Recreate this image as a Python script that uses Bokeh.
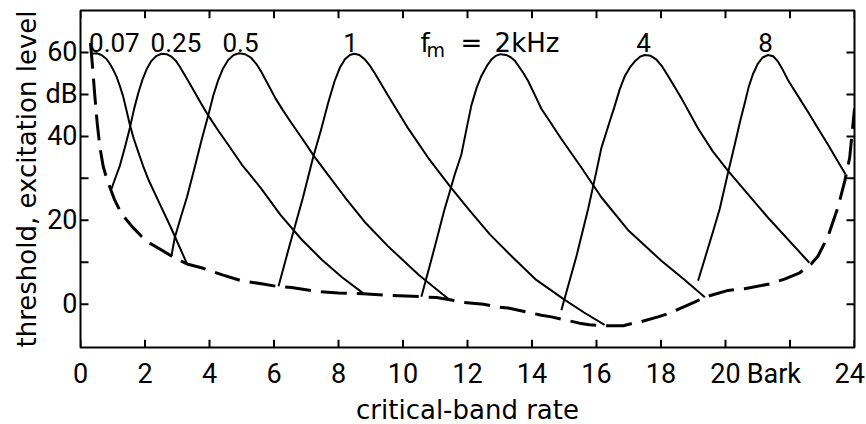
from bokeh.plotting import figure
from bokeh.models import Range1d, FixedTicker, Label, Title
from bokeh.embed import file_html
from bokeh.resources import INLINE

# ---------------- data (critical-band rate in Bark, level in dB) ----------------
threshold_z = [0.31, 0.38, 0.44, 0.52, 0.60, 0.70, 0.81, 1.05, 1.27, 1.60, 1.89, 2.14, 2.50, 2.82,
               3.30, 3.75, 4.40, 4.99, 5.61, 6.13, 6.54, 7.37, 8.00, 8.77, 9.64, 10.30, 11.04,
               11.50, 11.81, 12.50, 12.90, 13.26, 14.29, 14.60, 15.47, 15.78, 16.30, 16.83,
               17.13, 17.40, 17.91, 18.27, 19.04, 19.36, 20.08, 20.59, 21.40, 21.83, 22.30,
               22.67, 22.87, 23.18, 23.49, 23.70, 23.85, 24.00]
threshold_L = [62.3, 56.0, 50.0, 43.0, 37.5, 33.0, 30.0, 25.0, 21.6, 18.5, 16.2, 14.6, 13.0, 11.5,
               9.6, 8.7, 7.0, 5.6, 4.9, 4.2, 4.0, 3.0, 2.7, 2.5, 2.1, 1.9, 1.6,
               1.0, 0.5, 0.0, -0.6, -0.9, -2.6, -3.0, -4.5, -4.9, -5.1, -5.1,
               -4.5, -4.1, -3.0, -2.1, 0.5, 1.7, 3.3, 3.7, 4.9, 6.0, 7.5,
               9.7, 11.5, 16.2, 23.2, 29.4, 34.9, 46.6]

exc_007_z = [0.34, 0.50, 0.65, 0.80, 0.91, 1.02, 1.12, 1.22, 1.32, 1.42, 1.53, 1.65, 1.79, 1.94,
             2.10, 2.41, 2.82, 3.05, 3.30]
exc_007_L = [59.7, 59.8, 59.4, 58.5, 57.3, 55.8, 54.2, 52.0, 49.6, 46.4, 42.8, 39.5, 36.3, 33.0,
             29.8, 24.7, 18.0, 14.0, 9.7]

exc_025_z = [0.96, 1.10, 1.22, 1.38, 1.53, 1.66, 1.79, 1.92, 2.05, 2.20, 2.36, 2.51, 2.67, 2.82,
             2.96, 3.08, 3.25, 3.44, 3.70, 3.96, 4.27, 4.58, 5.00, 5.30, 5.61, 6.20, 6.85, 7.50,
             8.10, 8.77]
exc_025_L = [27.5, 30.5, 33.0, 37.5, 42.0, 46.5, 50.3, 53.5, 56.0, 58.0, 59.2, 59.7, 59.6, 59.0,
             58.0, 56.6, 54.4, 51.9, 48.4, 45.0, 41.4, 38.0, 33.3, 30.5, 27.5, 21.3, 15.5, 10.5,
             6.5, 2.6]

exc_05_z = [2.82, 2.92, 3.10, 3.30, 3.54, 3.75, 3.96, 4.12, 4.27, 4.42, 4.58, 4.75, 4.92, 5.10,
            5.28, 5.45, 5.60, 5.80, 6.05, 6.28, 6.54, 6.90, 7.24, 7.70, 8.20, 8.85, 9.54, 10.50,
            11.45]
exc_05_L = [11.5, 15.8, 20.5, 25.5, 32.6, 39.0, 45.0, 49.8, 53.4, 56.2, 58.2, 59.4, 59.8, 59.6,
            58.8, 57.3, 55.5, 52.6, 49.0, 46.2, 43.2, 39.2, 35.3, 30.6, 25.5, 19.3, 13.8, 6.9,
            1.0]

exc_1_z = [6.14, 6.50, 6.90, 7.21, 7.47, 7.68, 7.88, 8.05, 8.20, 8.35, 8.49, 8.65, 8.82, 8.97,
           9.13, 9.54, 10.16, 10.78, 11.50, 12.03, 12.70, 13.36, 14.10, 14.97, 15.60, 16.25]
exc_1_L = [4.3, 14.5, 25.5, 34.9, 41.9, 48.0, 53.2, 56.5, 58.4, 59.4, 59.7, 59.4, 58.3, 56.9,
           55.0, 49.7, 41.9, 34.9, 27.7, 22.7, 16.6, 11.5, 6.0, 1.3, -1.9, -4.9]

exc_2_z = [10.57, 10.99, 11.29, 11.40, 11.60, 11.81, 11.97, 12.12, 12.28, 12.43, 12.60, 12.74,
           12.88, 13.02, 13.20, 13.35, 13.47, 13.60, 13.74, 13.88, 14.08, 14.29, 14.60, 14.90,
           15.53, 16.15, 17.00, 18.02, 18.70, 19.36]
exc_2_L = [1.8, 13.8, 22.7, 25.5, 30.8, 35.7, 41.8, 47.4, 51.5, 54.4, 56.8, 58.3,
           59.2, 59.6, 59.4, 58.8, 58.0, 56.6, 55.0, 53.2, 50.0, 46.6, 43.0, 39.5,
           32.6, 25.5, 17.5, 10.3, 6.0, 1.7]

exc_4_z = [14.91, 15.38, 15.74, 15.95, 16.15, 16.37, 16.57, 16.72, 16.88, 17.04, 17.19, 17.35,
           17.50, 17.68, 17.86, 18.04, 18.22, 18.43, 18.64, 19.15, 19.60, 20.08, 21.30, 22.60]
exc_4_L = [-1.4, 11.5, 22.7, 30.0, 37.2, 42.6, 47.4, 51.2, 54.4, 56.5, 57.9, 59.0,
           59.4, 59.2, 58.3, 56.6, 54.4, 51.7, 49.0, 41.9, 36.5, 31.8, 20.8, 9.9]

exc_8_z = [19.15, 19.60, 19.82, 20.08, 20.30, 20.45, 20.60, 20.72, 20.85, 21.00, 21.15, 21.32,
           21.48, 21.63, 21.78, 21.94, 22.25, 22.56, 22.87, 23.18, 23.45, 23.72]
exc_8_L = [5.6, 17.0, 22.7, 31.4, 38.5, 43.5, 48.0, 51.8, 54.8, 57.3, 58.8, 59.4,
           59.1, 57.8, 55.8, 53.4, 49.6, 45.8, 41.9, 38.0, 34.5, 31.0]

curve_names = ["0.07", "0.25", "0.5", "1", "4", "8"]
curve_name_z = [1.05, 2.96, 4.96, 8.37, 17.46, 21.24]

# tick marks (every 2 Bark / every 10 dB) and the printed tick labels
x_ticks = [0, 2, 4, 6, 8, 10, 12, 14, 16, 18, 20, 22, 24]
y_ticks = [0, 10, 20, 30, 40, 50, 60]
x_label_pos = [0, 2, 4, 6, 8, 10, 12, 14, 16, 18, 20, 21.5, 23.85]
x_label_txt = {21.5: "Bark", 23.85: "24"}
y_label_pos = [0, 20, 40, 50, 60]
y_label_txt = {50: "dB"}

# ---------------- figure ----------------
X0, X1, Y0, Y1 = 0.0, 24.0, -10.3, 70.0
W, H = 866, 424
ML, MR, MT, MB = 80, 12, 10, 71
NUM = "Roboto"
WORD = "DejaVu Sans"

p = figure(width=W, height=H, output_backend="svg", toolbar_location=None,
           x_range=Range1d(X0, X1), y_range=Range1d(Y0, Y1),
           min_border_left=ML, min_border_right=MR, min_border_top=MT, min_border_bottom=MB)
p.grid.visible = False
p.background_fill_color = "white"
p.border_fill_color = "white"
p.outline_line_color = "black"
p.outline_line_width = 2

for ax in (p.xaxis[0], p.yaxis[0]):
    ax.axis_line_color = None
    ax.major_tick_line_color = None
    ax.minor_tick_line_color = None
    ax.major_tick_in = 0
    ax.major_tick_out = 0
    ax.minor_tick_in = 0
    ax.minor_tick_out = 0
    ax.major_label_text_font = NUM
    ax.major_label_text_font_size = "27px"
    ax.major_label_text_color = "black"

xa = p.xaxis[0]
xa.ticker = FixedTicker(ticks=x_label_pos)
xa.major_label_overrides = x_label_txt
xa.major_label_standoff = 10

ya = p.yaxis[0]
ya.ticker = FixedTicker(ticks=y_label_pos)
ya.major_label_overrides = y_label_txt
ya.major_label_standoff = 3

# inward tick marks on all four sides
fw = W - ML - MR
fh = H - MT - MB
tick_px = 8
dx = tick_px * (X1 - X0) / fw
dy = tick_px * (Y1 - Y0) / fh
p.segment(x0=x_ticks, y0=[Y0] * len(x_ticks), x1=x_ticks, y1=[Y0 + dy] * len(x_ticks),
          line_color="black", line_width=2)
p.segment(x0=x_ticks, y0=[Y1] * len(x_ticks), x1=x_ticks, y1=[Y1 - dy] * len(x_ticks),
          line_color="black", line_width=2)
p.segment(x0=[X0] * len(y_ticks), y0=y_ticks, x1=[X0 + dx] * len(y_ticks), y1=y_ticks,
          line_color="black", line_width=2)
p.segment(x0=[X1] * len(y_ticks), y0=y_ticks, x1=[X1 - dx] * len(y_ticks), y1=y_ticks,
          line_color="black", line_width=2)

# threshold in quiet (dashed)
p.line(threshold_z, threshold_L, line_color="black", line_width=3, line_dash="26 10")

# excitation patterns
for zs, ls in [(exc_007_z, exc_007_L), (exc_025_z, exc_025_L), (exc_05_z, exc_05_L),
               (exc_1_z, exc_1_L), (exc_2_z, exc_2_L), (exc_4_z, exc_4_L), (exc_8_z, exc_8_L)]:
    p.line(zs, ls, line_color="black", line_width=2, line_join="round")

# curve labels
for name, z in zip(curve_names, curve_name_z):
    p.add_layout(Label(x=z, y=62.3, text=name, text_align="center", text_baseline="alphabetic",
                       text_font=NUM, text_font_size="26px", text_color="black"))
p.add_layout(Label(x=10.54, y=62.3, text="f", text_align="left", text_baseline="alphabetic",
                   text_font=WORD, text_font_size="26px", text_color="black"))
p.add_layout(Label(x=10.73, y=60.6, text="m", text_align="left", text_baseline="alphabetic",
                   text_font=WORD, text_font_size="19px", text_color="black"))
p.add_layout(Label(x=11.78, y=62.3, text="=", text_align="left", text_baseline="alphabetic",
                   text_font=WORD, text_font_size="26px", text_color="black"))
p.add_layout(Label(x=12.84, y=62.3, text="2kHz", text_align="left", text_baseline="alphabetic",
                   text_font=WORD, text_font_size="26px", text_color="black"))

# axis titles
p.add_layout(Title(text="critical-band rate", align="center", offset=-46, standoff=0,
                   text_font=WORD, text_font_size="26px", text_font_style="normal",
                   text_color="black"), "below")
p.add_layout(Title(text="threshold, excitation level", align="center", offset=10, standoff=2,
                   text_font=WORD, text_font_size="26px", text_font_style="normal",
                   text_color="black"), "left")

open("out.html", "w").write(file_html(p, INLINE))
